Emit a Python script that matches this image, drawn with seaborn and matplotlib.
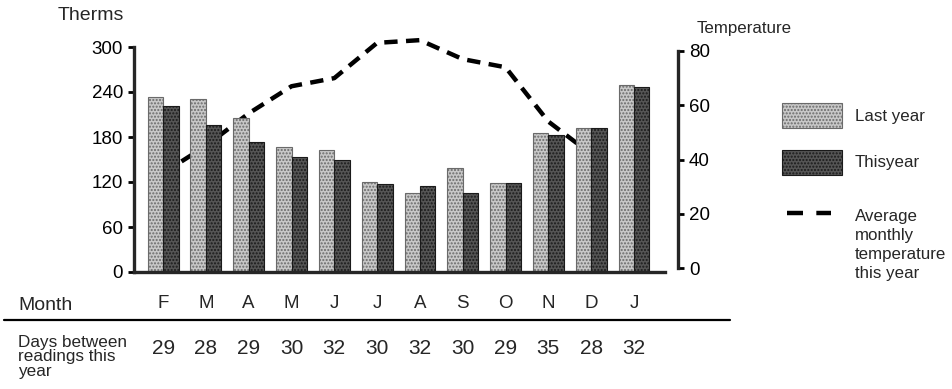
import numpy as np
import pandas as pd
import seaborn as sns
import matplotlib.pyplot as plt
from matplotlib.patches import Rectangle
from matplotlib.lines import Line2D
import matplotlib.transforms as mtransforms

# data
months = ['Feb', 'Mar', 'Apr', 'May', 'Jun', 'Jul', 'Aug', 'Sep', 'Oct', 'Nov', 'Dec', 'Jan']
month_letters = ['F', 'M', 'A', 'M', 'J', 'J', 'A', 'S', 'O', 'N', 'D', 'J']
last_year = [233, 231, 205, 167, 163, 120, 105, 139, 119, 185, 192, 250]
this_year = [221, 196, 173, 153, 149, 117, 115, 105, 119, 183, 192, 247]
temp_months = months[:11]
temperature = [35, 45, 57, 67, 70, 83, 84, 77, 74, 54, 42]
days = [29, 28, 29, 30, 32, 30, 32, 30, 29, 35, 28, 32]

sns.set_style('white')
plt.rcParams['font.family'] = ['Liberation Sans', 'DejaVu Sans']

W, H = 953, 389
fig = plt.figure(figsize=(W / 100, H / 100), dpi=100)

def fx(px):
    return px / W

def fy(py):
    return 1 - py / H

ax = fig.add_axes([fx(134), fy(272), fx(544), 225 / H])
ax2 = ax.twinx()

df = pd.DataFrame({
    'month': months * 2,
    'series': ['Last year'] * 12 + ['Thisyear'] * 12,
    'therms': last_year + this_year,
})
light, dark = '#c8c8c8', '#555555'
sns.barplot(data=df, x='month', y='therms', hue='series', order=months,
            palette=[light, dark], width=0.72, saturation=1, legend=False,
            ax=ax)
for cont, hcol in zip(ax.containers, ['#6a6a6a', '#1a1a1a']):
    for bar in cont:
        bar.set_hatch('.....')
        bar.set_edgecolor(hcol)
        bar.set_linewidth(0.8)

tdf = pd.DataFrame({'x': np.arange(len(temp_months)), 'temp': temperature})
sns.lineplot(data=tdf, x='x', y='temp', color='black', lw=3.2, ax=ax2)
ax2.lines[0].set_dashes([3.0, 1.9])
ax2.lines[0].set_clip_on(False)

# put the line behind the bars
ax.set_zorder(ax2.get_zorder() + 1)
ax.patch.set_visible(False)

ax.set_xlim(-0.68, 12.03)
ax.set_ylim(0, 300)
ax2.set_ylim(-1.47, 81.47)

ax.set_yticks([0, 60, 120, 180, 240, 300])
ax2.set_yticks([0, 20, 40, 60, 80])
ax.set_xticks([])
ax.set_xlabel('')
ax.set_ylabel('')
ax2.set_ylabel('')
ax2.set_xlabel('')

for s in ['top', 'right']:
    ax.spines[s].set_visible(False)
for s in ['top', 'left', 'bottom']:
    ax2.spines[s].set_visible(False)
ax.spines['left'].set_linewidth(2.4)
ax.spines['left'].set_bounds(0, 300)
ax.spines['bottom'].set_linewidth(2.4)
ax.spines['bottom'].set_bounds(-0.68, 11.72)
ax2.spines['right'].set_linewidth(2.4)
ax2.spines['right'].set_bounds(0, 80)

ax.tick_params(axis='y', left=True, length=4, width=2, pad=4, labelsize=13.5,
               colors='black')
ax2.tick_params(axis='y', right=True, length=4, width=2, pad=4, labelsize=13.5,
                colors='black')

# axis titles
fig.text(fx(58), fy(15), 'Therms', fontsize=14, va='center', ha='left')
fig.text(fx(697), fy(29), 'Temperature', fontsize=12.2, va='center', ha='left')

# month and days table under the chart
trans = mtransforms.blended_transform_factory(ax.transData, fig.transFigure)
fig.text(fx(18), fy(306), 'Month', fontsize=14, va='center', ha='left')
for i, (m, d) in enumerate(zip(month_letters, days)):
    ax.text(i, fy(304), m, transform=trans, fontsize=13.5, ha='center',
            va='center')
    ax.text(i, fy(348), str(d), transform=trans, fontsize=15, ha='center',
            va='center')
fig.add_artist(Line2D([fx(4), fx(730)], [fy(320), fy(320)], color='black',
                      lw=1.6))
fig.text(fx(18), fy(357), 'Days between\nreadings this\nyear', fontsize=12.3,
         va='center', ha='left', linespacing=0.92)

# legend drawn by hand
fig.add_artist(Rectangle((fx(782), fy(128)), fx(60), 25 / H, facecolor=light,
                         edgecolor='#6a6a6a', hatch='.....', lw=0.8))
fig.add_artist(Rectangle((fx(782), fy(175)), fx(60), 25 / H, facecolor=dark,
                         edgecolor='#1a1a1a', hatch='.....', lw=0.8))
fig.add_artist(Line2D([fx(787), fx(831)], [fy(213), fy(213)], color='black',
                      lw=3.2, dashes=[3.6, 3.0]))
fig.text(fx(855), fy(116), 'Last year', fontsize=12.2, va='center', ha='left')
fig.text(fx(855), fy(163), 'Thisyear', fontsize=12.2, va='center', ha='left')
fig.text(fx(855), fy(245), 'Average\nmonthly\ntemperature\nthis year',
         fontsize=12.2, va='center', ha='left', linespacing=1.35)

fig.savefig('out.png', dpi=100)
